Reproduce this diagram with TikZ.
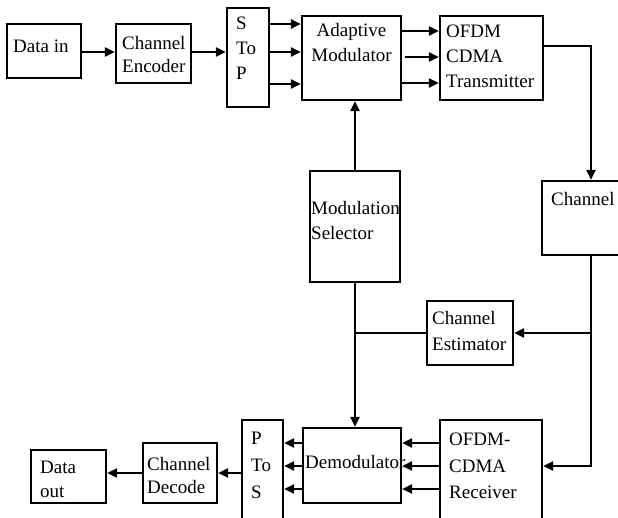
\documentclass[tikz,border=0pt]{standalone}
\usepackage{fontspec}
\setmainfont{Liberation Serif}
\usetikzlibrary{arrows.meta}
\tikzset{
  box/.style={draw, line width=2.2pt, inner sep=0pt, rectangle},
  txt/.style={inner sep=0pt, anchor=base west, font=\fontsize{19}{23}\selectfont},
  ctxt/.style={txt, anchor=base},
  ln/.style={line width=2.2pt},
  arr/.style={ln, -{Triangle[length=10pt,width=9pt]}}
}
\begin{document}
\begin{tikzpicture}[x=1pt,y=-1pt]
\useasboundingbox (0,0) rectangle (618,518);
\clip (0,0) rectangle (618,518);
\fill[white] (0,0) rectangle (618,518);
% boxes
\node[box, minimum width=74pt, minimum height=54pt] (din) at (44,51) {};
\node[box, minimum width=75pt, minimum height=59pt] (enc) at (153.5,53.5) {};
\node[box, minimum width=42pt, minimum height=99pt] (stp) at (248,57.5) {};
\node[box, minimum width=99pt, minimum height=84pt] (am) at (351.5,58) {};
\node[box, minimum width=103pt, minimum height=84pt] (tx) at (491.5,58) {};
\node[box, minimum width=98pt, minimum height=74pt] (ch) at (591,218) {};
\node[box, minimum width=90pt, minimum height=111pt] (ms) at (355,226.5) {};
\node[box, minimum width=86pt, minimum height=64pt] (est) at (470,333) {};
\node[box, minimum width=98pt, minimum height=75pt] (dem) at (352,465.5) {};
\node[box, minimum width=102pt, minimum height=120pt] (rx) at (491,480) {};
\node[box, minimum width=41pt, minimum height=120pt] (pts) at (262.5,480) {};
\node[box, minimum width=74pt, minimum height=60pt] (dec) at (180,473) {};
\node[box, minimum width=75pt, minimum height=53pt] (dout) at (68.5,476.5) {};
% texts
\node[txt] (t1) at (13,53) {Data in};
\node[txt] (t2) at (122,50) {Channel};
\node[txt] (t3) at (122,73) {Encoder};
\node[txt] (t4) at (236,30) {S};
\node[txt] (t5) at (236,55) {To};
\node[txt] (t6) at (236,80) {P};
\node[ctxt] (t7) at (351.5,37) {Adaptive};
\node[ctxt] (t8) at (351.5,62) {Modulator};
\node[txt] (t9) at (446,38) {OFDM};
\node[txt] (t10) at (446,63) {CDMA};
\node[txt] (t11) at (446,88) {Transmitter};
\node[txt] (t12) at (551,206) {Channel};
\node[txt] (t13) at (311,215) {Modulation};
\node[txt] (t14) at (311,240) {Selector};
\node[txt] (t15) at (432,325) {Channel};
\node[txt] (t16) at (432,351) {Estimator};
\node[txt] (t17) at (305,468) {Demodulator};
\node[txt] (t18) at (449,445) {OFDM-};
\node[txt] (t19) at (449,472) {CDMA};
\node[txt] (t20) at (449,498) {Receiver};
\node[txt] (t21) at (251,444) {P};
\node[txt] (t22) at (251,471) {To};
\node[txt] (t23) at (251,498) {S};
\node[txt] (t24) at (147,470) {Channel};
\node[txt] (t25) at (147,493) {Decode};
\node[txt] (t26) at (40,473) {Data};
\node[txt] (t27) at (40,497) {out};
% connectors
\draw[arr] (din.east |- 0,52) -- (enc.west |- 0,52);
\draw[arr] (enc.east |- 0,52) -- (stp.west |- 0,52);
\foreach \y in {24,52,84} \draw[arr] (stp.east |- 0,\y) -- (am.west |- 0,\y);
\draw[arr] (am.east |- 0,31) -- (tx.west |- 0,31);
\draw[arr] (405,57) -- (tx.west |- 0,57);
\draw[arr] (am.east |- 0,83) -- (tx.west |- 0,83);
\draw[arr] (tx.east |- 0,46) -| (ch.north);
\draw[arr] (ms.north) -- (ms.north |- am.south);
\draw[arr] (ch.south) |- (rx.east |- 0,466);
\draw[arr] (ch.south |- est.east) -- (est.east);
\draw[ln] (est.west) -- (ms.south |- est.west);
\draw[arr] (ms.south) -- (ms.south |- dem.north);
\foreach \y in {443,466,489} {
  \draw[arr] (rx.west |- 0,\y) -- (dem.east |- 0,\y);
  \draw[arr] (dem.west |- 0,\y) -- (pts.east |- 0,\y);
}
\draw[arr] (pts.west |- dec.east) -- (dec.east);
\draw[arr] (dec.west) -- (dec.west -| dout.east);
\end{tikzpicture}
\end{document}
